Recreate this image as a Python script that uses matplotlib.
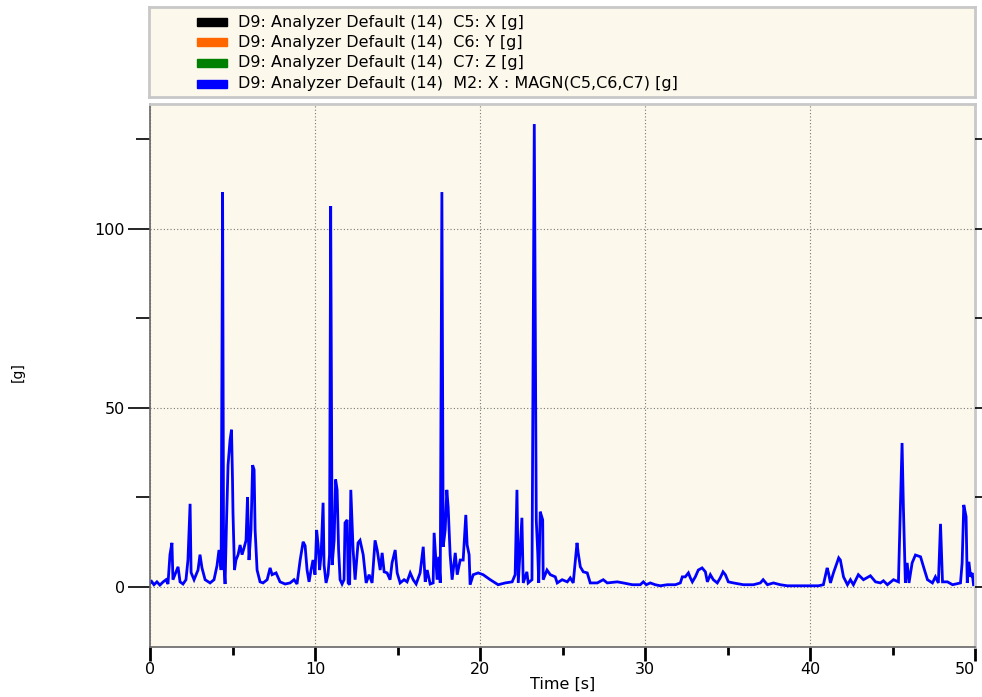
import matplotlib
matplotlib.use("Agg")
import matplotlib.pyplot as plt
from matplotlib.patches import Rectangle
from matplotlib.ticker import MultipleLocator

# magnitude trace (time in s, value in g)
time_s = [0.00, 0.10, 0.24, 0.42, 0.60, 0.80, 0.97, 1.09, 1.21, 1.33,
          1.39, 1.58, 1.70, 1.82, 2.00, 2.18, 2.30, 2.43, 2.49, 2.67,
          2.91, 3.03, 3.15, 3.34, 3.64, 3.88, 4.06, 4.18, 4.31, 4.40,
          4.46, 4.55, 4.64, 4.73, 4.85, 4.94, 5.00, 5.03, 5.12, 5.21,
          5.34, 5.46, 5.58, 5.70, 5.82, 5.91, 6.00, 6.12, 6.22, 6.31,
          6.37, 6.49, 6.67, 6.85, 7.10, 7.28, 7.40, 7.64, 7.88, 8.19,
          8.49, 8.73, 8.91, 9.10, 9.28, 9.40, 9.52, 9.64, 9.76, 9.88,
          10.00, 10.10, 10.19, 10.28, 10.37, 10.49, 10.55, 10.67, 10.79, 10.88,
          10.95, 11.04, 11.16, 11.25, 11.34, 11.43, 11.52, 11.64, 11.76, 11.82,
          11.95, 12.01, 12.10, 12.17, 12.31, 12.43, 12.61, 12.73, 12.92, 13.10,
          13.28, 13.46, 13.64, 13.77, 13.95, 14.07, 14.19, 14.37, 14.55, 14.67,
          14.86, 14.98, 15.16, 15.40, 15.58, 15.77, 15.95, 16.13, 16.37, 16.56,
          16.68, 16.80, 16.98, 17.16, 17.22, 17.40, 17.50, 17.59, 17.69, 17.77,
          17.89, 17.99, 18.07, 18.19, 18.31, 18.50, 18.62, 18.80, 18.98, 19.14,
          19.22, 19.34, 19.40, 19.59, 19.89, 20.19, 20.62, 21.10, 21.53, 21.95,
          22.13, 22.24, 22.32, 22.54, 22.62, 22.84, 22.92, 23.15, 23.29, 23.41,
          23.50, 23.56, 23.65, 23.80, 23.83, 24.06, 24.26, 24.56, 24.68, 24.98,
          25.29, 25.47, 25.65, 25.88, 25.95, 26.08, 26.26, 26.50, 26.68, 27.11,
          27.47, 27.71, 28.32, 28.68, 29.23, 29.71, 29.90, 30.08, 30.32, 30.62,
          30.93, 31.35, 31.84, 32.14, 32.26, 32.44, 32.63, 32.75, 32.87, 33.05,
          33.23, 33.46, 33.66, 33.78, 33.96, 34.14, 34.38, 34.56, 34.73, 34.87,
          35.05, 35.36, 35.96, 36.57, 36.99, 37.16, 37.42, 37.78, 38.20, 38.63,
          39.42, 40.02, 40.51, 40.81, 41.04, 41.12, 41.24, 41.42, 41.63, 41.74,
          41.84, 42.03, 42.27, 42.45, 42.63, 42.93, 43.24, 43.66, 43.97, 44.27,
          44.45, 44.69, 45.06, 45.36, 45.58, 45.66, 45.78, 45.89, 46.00, 46.19,
          46.39, 46.70, 46.88, 47.12, 47.42, 47.60, 47.78, 47.91, 48.03, 48.33,
          48.64, 49.12, 49.22, 49.32, 49.46, 49.53, 49.63, 49.73, 49.83, 49.91]

mag_g = [1.0, 1.5, 0.6, 1.4, 0.5, 1.4, 2.0, 0.8, 9.0, 12.3,
         2.0, 4.2, 5.6, 1.4, 0.8, 2.0, 7.5, 23.2, 4.0, 2.0,
         4.7, 9.0, 5.3, 2.0, 1.1, 2.0, 5.9, 10.3, 4.7, 110.3,
         7.5, 0.8, 18.7, 34.0, 41.0, 43.9, 30.0, 20.7, 4.7, 7.5,
         9.0, 11.7, 9.0, 10.9, 13.0, 25.1, 7.5, 15.9, 34.0, 32.7,
         15.9, 4.7, 1.4, 1.1, 2.0, 5.3, 3.4, 3.9, 1.4, 0.8,
         1.1, 2.0, 0.8, 7.5, 12.6, 11.5, 4.7, 1.4, 4.7, 7.5,
         3.4, 15.9, 11.7, 4.7, 9.0, 23.5, 6.1, 1.1, 3.4, 9.0,
         106.4, 6.1, 13.0, 30.0, 27.1, 10.3, 2.0, 0.8, 2.0, 17.9,
         18.7, 1.1, 0.6, 27.1, 10.3, 2.0, 12.3, 13.0, 9.0, 1.1,
         3.4, 1.1, 13.0, 10.3, 4.7, 9.5, 4.2, 3.9, 2.0, 6.7,
         10.3, 3.9, 1.1, 2.0, 1.4, 3.9, 2.0, 0.8, 3.9, 11.2,
         1.4, 4.7, 0.8, 1.1, 15.1, 2.0, 8.4, 1.1, 110.3, 11.2,
         15.9, 27.1, 22.3, 9.0, 2.0, 9.5, 3.4, 7.5, 7.5, 20.1,
         11.7, 9.0, 0.6, 3.4, 3.9, 3.4, 2.0, 0.6, 1.1, 1.4,
         3.4, 27.1, 1.1, 19.3, 1.1, 4.2, 1.1, 2.0, 129.3, 18.7,
         9.5, 1.1, 21.0, 18.7, 2.0, 4.7, 3.4, 2.8, 1.1, 2.0,
         1.4, 2.5, 1.1, 12.3, 9.5, 5.6, 4.2, 3.9, 1.1, 1.1,
         2.0, 1.1, 1.4, 1.1, 0.6, 0.6, 1.4, 0.6, 1.1, 0.6,
         0.3, 0.6, 0.6, 1.1, 2.8, 2.8, 3.9, 2.5, 1.4, 2.8,
         4.7, 5.3, 4.2, 1.4, 3.4, 2.0, 1.1, 2.5, 4.2, 3.4,
         1.4, 1.1, 0.6, 0.6, 1.1, 2.0, 0.6, 1.1, 0.6, 0.3,
         0.3, 0.3, 0.3, 0.6, 5.3, 3.9, 1.1, 3.9, 6.7, 8.1,
         7.5, 2.8, 0.6, 2.0, 0.6, 3.4, 2.0, 3.1, 1.4, 1.1,
         1.7, 0.6, 2.0, 1.4, 40.2, 22.3, 1.1, 6.7, 1.1, 6.7,
         8.9, 8.4, 5.6, 2.0, 1.1, 2.8, 1.1, 17.6, 1.4, 1.4,
         0.6, 1.1, 6.7, 22.9, 19.6, 1.1, 7.0, 2.8, 3.9, 0.6]

x_ticks = [0, 10, 20, 30, 40, 50]
y_ticks = [0, 50, 100]

legend_labels = ["D9: Analyzer Default (14)  C5: X [g]",
                 "D9: Analyzer Default (14)  C6: Y [g]",
                 "D9: Analyzer Default (14)  C7: Z [g]",
                 "D9: Analyzer Default (14)  M2: X : MAGN(C5,C6,C7) [g]"]
legend_colors = ["#000000", "#FF6600", "#008000", "#0000FF"]

plt.rcParams["font.family"] = "DejaVu Sans"
bg = "#FDF8EC"
W, H = 982, 697
fig = plt.figure(figsize=(W / 100, H / 100), dpi=100)

# main plot
ax = fig.add_axes([150 / W, 1 - 647 / H, 825 / W, 543 / H])
ax.set_facecolor(bg)
ax.plot(time_s, mag_g, color="#0000FF", lw=2.0, solid_joinstyle="miter")
ax.set_xlim(0, 50)
ax.set_ylim(-16.8, 134.9)

ax.set_xticks(x_ticks)
ax.xaxis.set_minor_locator(MultipleLocator(5))
ax.set_yticks(y_ticks)
ax.yaxis.set_minor_locator(MultipleLocator(25))
ax.grid(True, which="major", color="#777777", linestyle=(0, (1, 2)), lw=0.8)

ax.tick_params(axis="x", which="major", length=10, width=2, labelsize=11.5, pad=1)
ax.tick_params(axis="x", which="minor", length=6, width=2)
ax.tick_params(axis="y", which="major", length=16, width=1.2, labelsize=11.5, pad=2)
ax.tick_params(axis="y", which="minor", length=10, width=1.2)

for side in ["left", "bottom"]:
    ax.spines[side].set_color("#666666")
    ax.spines[side].set_linewidth(1.2)
for side in ["top", "right"]:
    ax.spines[side].set_color("#C8C8C8")
    ax.spines[side].set_linewidth(2)

# right-hand ticks
ax2 = ax.twinx()
ax2.set_ylim(ax.get_ylim())
ax2.yaxis.set_major_locator(MultipleLocator(25))
ax2.tick_params(axis="y", length=7, width=1.2, labelright=False)
for s in ax2.spines.values():
    s.set_visible(False)

ax.set_xlabel("Time [s]", fontsize=11.5, labelpad=0)
fig.text(18 / W, 1 - 372 / H, "[g]", rotation=90, fontsize=10,
         ha="center", va="center")

# legend box
lax = fig.add_axes([149 / W, 1 - 97 / H, 826 / W, 90 / H])
lax.set_xlim(0, 826)
lax.set_ylim(90, 0)
lax.set_facecolor(bg)
lax.set_xticks([])
lax.set_yticks([])
for s in lax.spines.values():
    s.set_color("#C8C8C8")
    s.set_linewidth(2)
row_y = [15, 35, 55.5, 76.5]
for yy, lab, col in zip(row_y, legend_labels, legend_colors):
    lax.add_patch(Rectangle((48, yy - 4), 30, 8, color=col))
    lax.text(89, yy, lab, fontsize=11.5, va="center", ha="left")

# last x label sits inside the figure edge
ax.xaxis.get_major_ticks()[-1].label1.set_horizontalalignment("right")
ax.xaxis.get_major_ticks()[-1].label1.set_x(50)

fig.savefig("out.png", dpi=100)
